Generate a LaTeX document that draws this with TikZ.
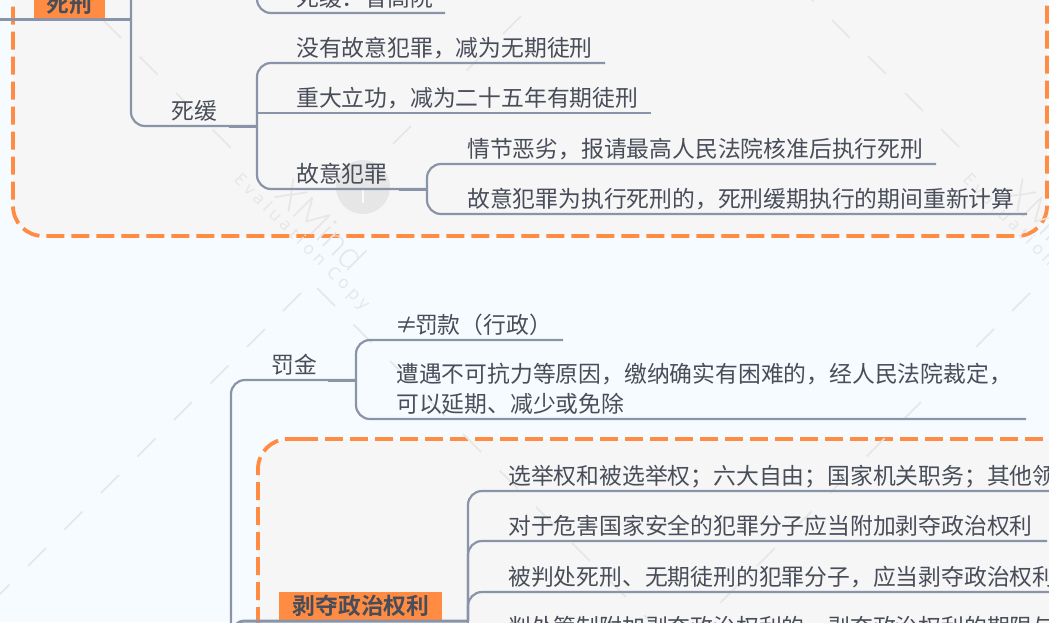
\documentclass[tikz,border=0pt]{standalone}
\usepackage{fontspec}
\newfontfamily\cjk[BoldFont={Noto Sans CJK SC Bold}]{Noto Sans CJK SC}
\newfontfamily\wmfont[LetterSpace=26]{Open Sans}
\newfontfamily\wmlogo{Lato Light}
\definecolor{paper}{HTML}{F6FBFF}
\definecolor{sheet}{HTML}{F6F6F6}
\definecolor{tone}{HTML}{FF8C42}
\definecolor{wire}{HTML}{8A94A8}
\definecolor{ink}{HTML}{484D59}
\definecolor{wmgrey}{HTML}{E6E6E6}
\tikzset{
  leaf/.style={anchor=base west,inner sep=0pt,text=ink,font=\cjk\fontsize{22.8}{30}\selectfont},
  tag/.style={anchor=base,inner sep=0pt,text=ink,font=\cjk\bfseries\fontsize{22.8}{30}\selectfont},
  branch/.style={draw=wire,line width=2.2pt,rounded corners=14pt},
  stub/.style={draw=wire,line width=3pt},
  zone/.style={draw=tone,line width=3.8pt,rounded corners=30pt,dash pattern=on 18pt off 7pt},
  tick/.style={draw=wmgrey,line width=1.6pt}
}
\begin{document}
\begin{tikzpicture}[x=1pt,y=-1pt,line join=round]
\clip (0,0) rectangle (1049,622);
\fill[paper] (0,0) rectangle (1049,622);
% dashed zones
\fill[sheet,rounded corners=30pt] (13,-60) rectangle (1047,236);
\fill[sheet,rounded corners=30pt] (258,439) rectangle (1200,800);
\draw[zone] (13,-18.5) -- (13,236) -- (1047,236) -- (1047,-60);
\draw[zone] (300,439) -- (1200,439);
\draw[zone] (258,700) -- (258,439) -- (300,439);
% watermark
\foreach \x in {103,139.5,176,212.5,795.5,832,868,905,941}
  \draw[tick] (\x,{\x-(\x>500?812:83)}) -- ++(18,18);
\foreach \x in {317,353.5,390,426.5,463,499.5,536,572,608,644}
  \draw[tick] (\x,\x-29) -- ++(18,18);
\foreach \x in {283,247,210.5,174,137.5,101,64.5,28,-8.5,393,430,466.5,503,540,1012,976,939.5,903,866.5,830,793.5,757,720.5,684}
  \draw[tick] (\x,{(\x>600?1323:(\x>300?537:594))-\x}) -- ++(18,-18);
\foreach \dx in {0,729}{
  \fill[wmgrey] (363+\dx,187) circle (27);
  \draw[paper,line width=2pt] (363+\dx,190) -- (363+\dx,203);
  \node[anchor=west,inner sep=0pt,rotate=-45,text=wmgrey,font=\wmfont\fontsize{17}{20}\selectfont] (wmcopy\dx) at (236+\dx,177) {Evaluation Copy};
  \node[anchor=west,inner sep=0pt,rotate=-45,text=wmgrey,font=\wmlogo\fontsize{38}{40}\selectfont] (wmname\dx) at (283+\dx,187) {XMind};
}
% labels on orange
\node[fill=tone,minimum width=71pt,minimum height=40pt,anchor=south west,inner sep=0pt] (deathbox) at (34,18) {};
\node[tag] (death) at (69,12) {死刑};
\node[fill=tone,minimum width=163pt,minimum height=29pt,anchor=south west,inner sep=0pt] (rightsbox) at (279,621) {};
\node[tag] (rights) at (361,614.5) {剥夺政治权利};
% hubs
\path
(0,19) coordinate (left)
(131,19) coordinate (death hub)
(131,-40) coordinate (death up)
(229,126) coordinate (reprieve stub)
(257,126) coordinate (reprieve hub)
(257,-30) coordinate (top up)
(445,13) coordinate (t0 end)
(399,189) coordinate (crime stub)
(427,189) coordinate (crime hub)
(231,660) coordinate (trunk low)
(328,380) coordinate (fine stub)
(356,380) coordinate (fine hub)
(468,621) coordinate (rights hub)
(468,660) coordinate (rights low);
\draw[stub] (left) -- (death hub);
\draw[branch] (death up) |- (reprieve hub);
\draw[stub] (reprieve stub) -- (reprieve hub);
\draw[branch] (fine hub) -| (trunk low);
\draw[stub] (fine stub) -- (fine hub);
\draw[stub,rounded corners=14pt] (trunk low) |- (rights hub);
\draw[branch] (top up) |- (t0 end);
\draw[branch] (rights hub) -- (rights low);
% text on branches
\node[leaf] (t0) at (296,6.5) {死缓：省高院};
\node[leaf] (reprieve) at (171,119.5) {死缓};
\node[leaf] (fine) at (271.5,373.5) {罚金};
\node[leaf] (crime) at (296,182.5) {故意犯罪};
\draw[branch] (reprieve hub) |- (crime hub);
\draw[stub] (crime stub) -- (crime hub);
% leaves
\foreach \name/\hub/\x/\y/\xend/\txt in {
  t1/reprieve hub/296/63/605/没有故意犯罪，减为无期徒刑,
  c1/crime hub/467/164/936/情节恶劣，报请最高人民法院核准后执行死刑,
  c2/crime hub/467/214/1027/故意犯罪为执行死刑的，死刑缓期执行的期间重新计算,
  f1/fine hub/395/340/563/≠\kern-3pt 罚款（行政）,
  r1/rights hub/508/491/1060/选举权和被选举权；六大自由；国家机关职务；其他领导职务,
  r2/rights hub/508/541/1047/对于危害国家安全的犯罪分子应当附加剥夺政治权利,
  r3/rights hub/508/592/1060/被判处死刑、无期徒刑的犯罪分子，应当剥夺政治权利终身}{
  \node[leaf] (\name) at (\x,\y-6.5) {\txt};
  \draw[branch] (\hub) |- (\xend,\y);
}
\node[leaf] (t2) at (296,106.5) {重大立功，减为二十五年有期徒刑};
\draw[draw=wire,line width=2.2pt] (257,113) -- (651,113);
\node[leaf,align=left] (f2) at (396,412.5) {遭遇不可抗力等原因，缴纳确实有困难的，经人民法院裁定，\\可以延期、减少或免除};
\coordinate (f2 end) at (1026,419);
\draw[branch] (fine hub) |- (f2 end);
\node[leaf] (r4) at (508,635.5) {判处管制附加剥夺政治权利的，剥夺政治权利的期限与管制相同};
\end{tikzpicture}
\end{document}
